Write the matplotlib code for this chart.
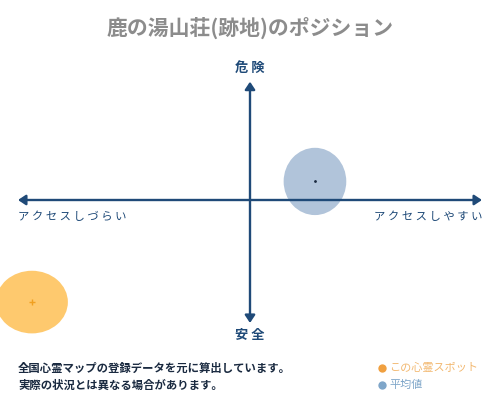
import matplotlib.pyplot as plt
from matplotlib.patches import Ellipse, FancyArrowPatch

plt.rcParams['font.family'] = ['Noto Sans CJK JP', 'DejaVu Sans']

title = "鹿の湯山荘(跡地)のポジション"
top_label = "危 険"
bottom_label = "安 全"
left_label = "ア ク セ ス し づ ら い"
right_label = "ア ク セ ス し や す い"
notes = ["全国心霊マップの登録データを元に算出しています。",
         "実際の状況とは異なる場合があります。"]
legend_names = ["この心霊スポット", "平均値"]

# position: x = access ease, y = danger (scale -100..100)
spot_x, spot_y = -94, -44
avg_x, avg_y = 28, 8
spot_size = (31, 27)
avg_size = (27, 29)

NAVY = "#1f4a78"
K = 2.32  # pixels per unit

fig = plt.figure(figsize=(5, 4), dpi=100)
ax = fig.add_axes([0, 0, 1, 1])
ax.set_xlim(-250 / K, 250 / K)
ax.set_ylim(-200 / K, 200 / K)
ax.axis("off")

ax.add_patch(Ellipse((spot_x, spot_y), spot_size[0], spot_size[1],
                     color="#fec96e", lw=0, zorder=1))
ax.plot(spot_x, spot_y, marker="+", color="#f0a020", ms=4, mew=1, zorder=2)
ax.add_patch(Ellipse((avg_x, avg_y), avg_size[0], avg_size[1],
                     color="#b1c4da", lw=0, zorder=1))
ax.plot(avg_x, avg_y, marker=".", color="#1a2a40", ms=2, zorder=2)

for p0, p1 in [((-100, 0), (100, 0)), ((0, -53), (0, 51))]:
    ax.add_patch(FancyArrowPatch(p0, p1, arrowstyle="<|-|>,head_length=3,head_width=2",
                                 color=NAVY, lw=1.7, mutation_scale=1.5,
                                 shrinkA=0, shrinkB=0, zorder=3))

ax.text(0, 172 / K, title, ha="center", va="center", fontsize=15,
        fontweight="bold", color="#8c8c8c")
ax.text(0, 132 / K, top_label, ha="center", va="center", fontsize=9.5,
        fontweight="bold", color=NAVY)
ax.text(0, -135 / K, bottom_label, ha="center", va="center", fontsize=9.5,
        fontweight="bold", color=NAVY)
ax.text(-232 / K, -17 / K, left_label, ha="left", va="center", fontsize=8.2,
        color=NAVY)
ax.text(232 / K, -17 / K, right_label, ha="right", va="center", fontsize=8.2,
        color=NAVY)

for i, line in enumerate(notes):
    ax.text(-232 / K, (-168 - 17 * i) / K, line, ha="left", va="center",
            fontsize=8.2, fontweight="bold", color="#1a2a40")

leg_colors = ["#f0a040", "#7fa6c9"]
text_colors = ["#f2b870", "#7fa6c9"]
for i, (name, c, tc) in enumerate(zip(legend_names, leg_colors, text_colors)):
    y = (-168 - 17 * i) / K
    ax.plot(132 / K, y, marker="o", color=c, ms=6, mew=0)
    ax.text(139 / K, y, name, ha="left", va="center", fontsize=8, color=tc)

fig.savefig("out.png", dpi=100)
